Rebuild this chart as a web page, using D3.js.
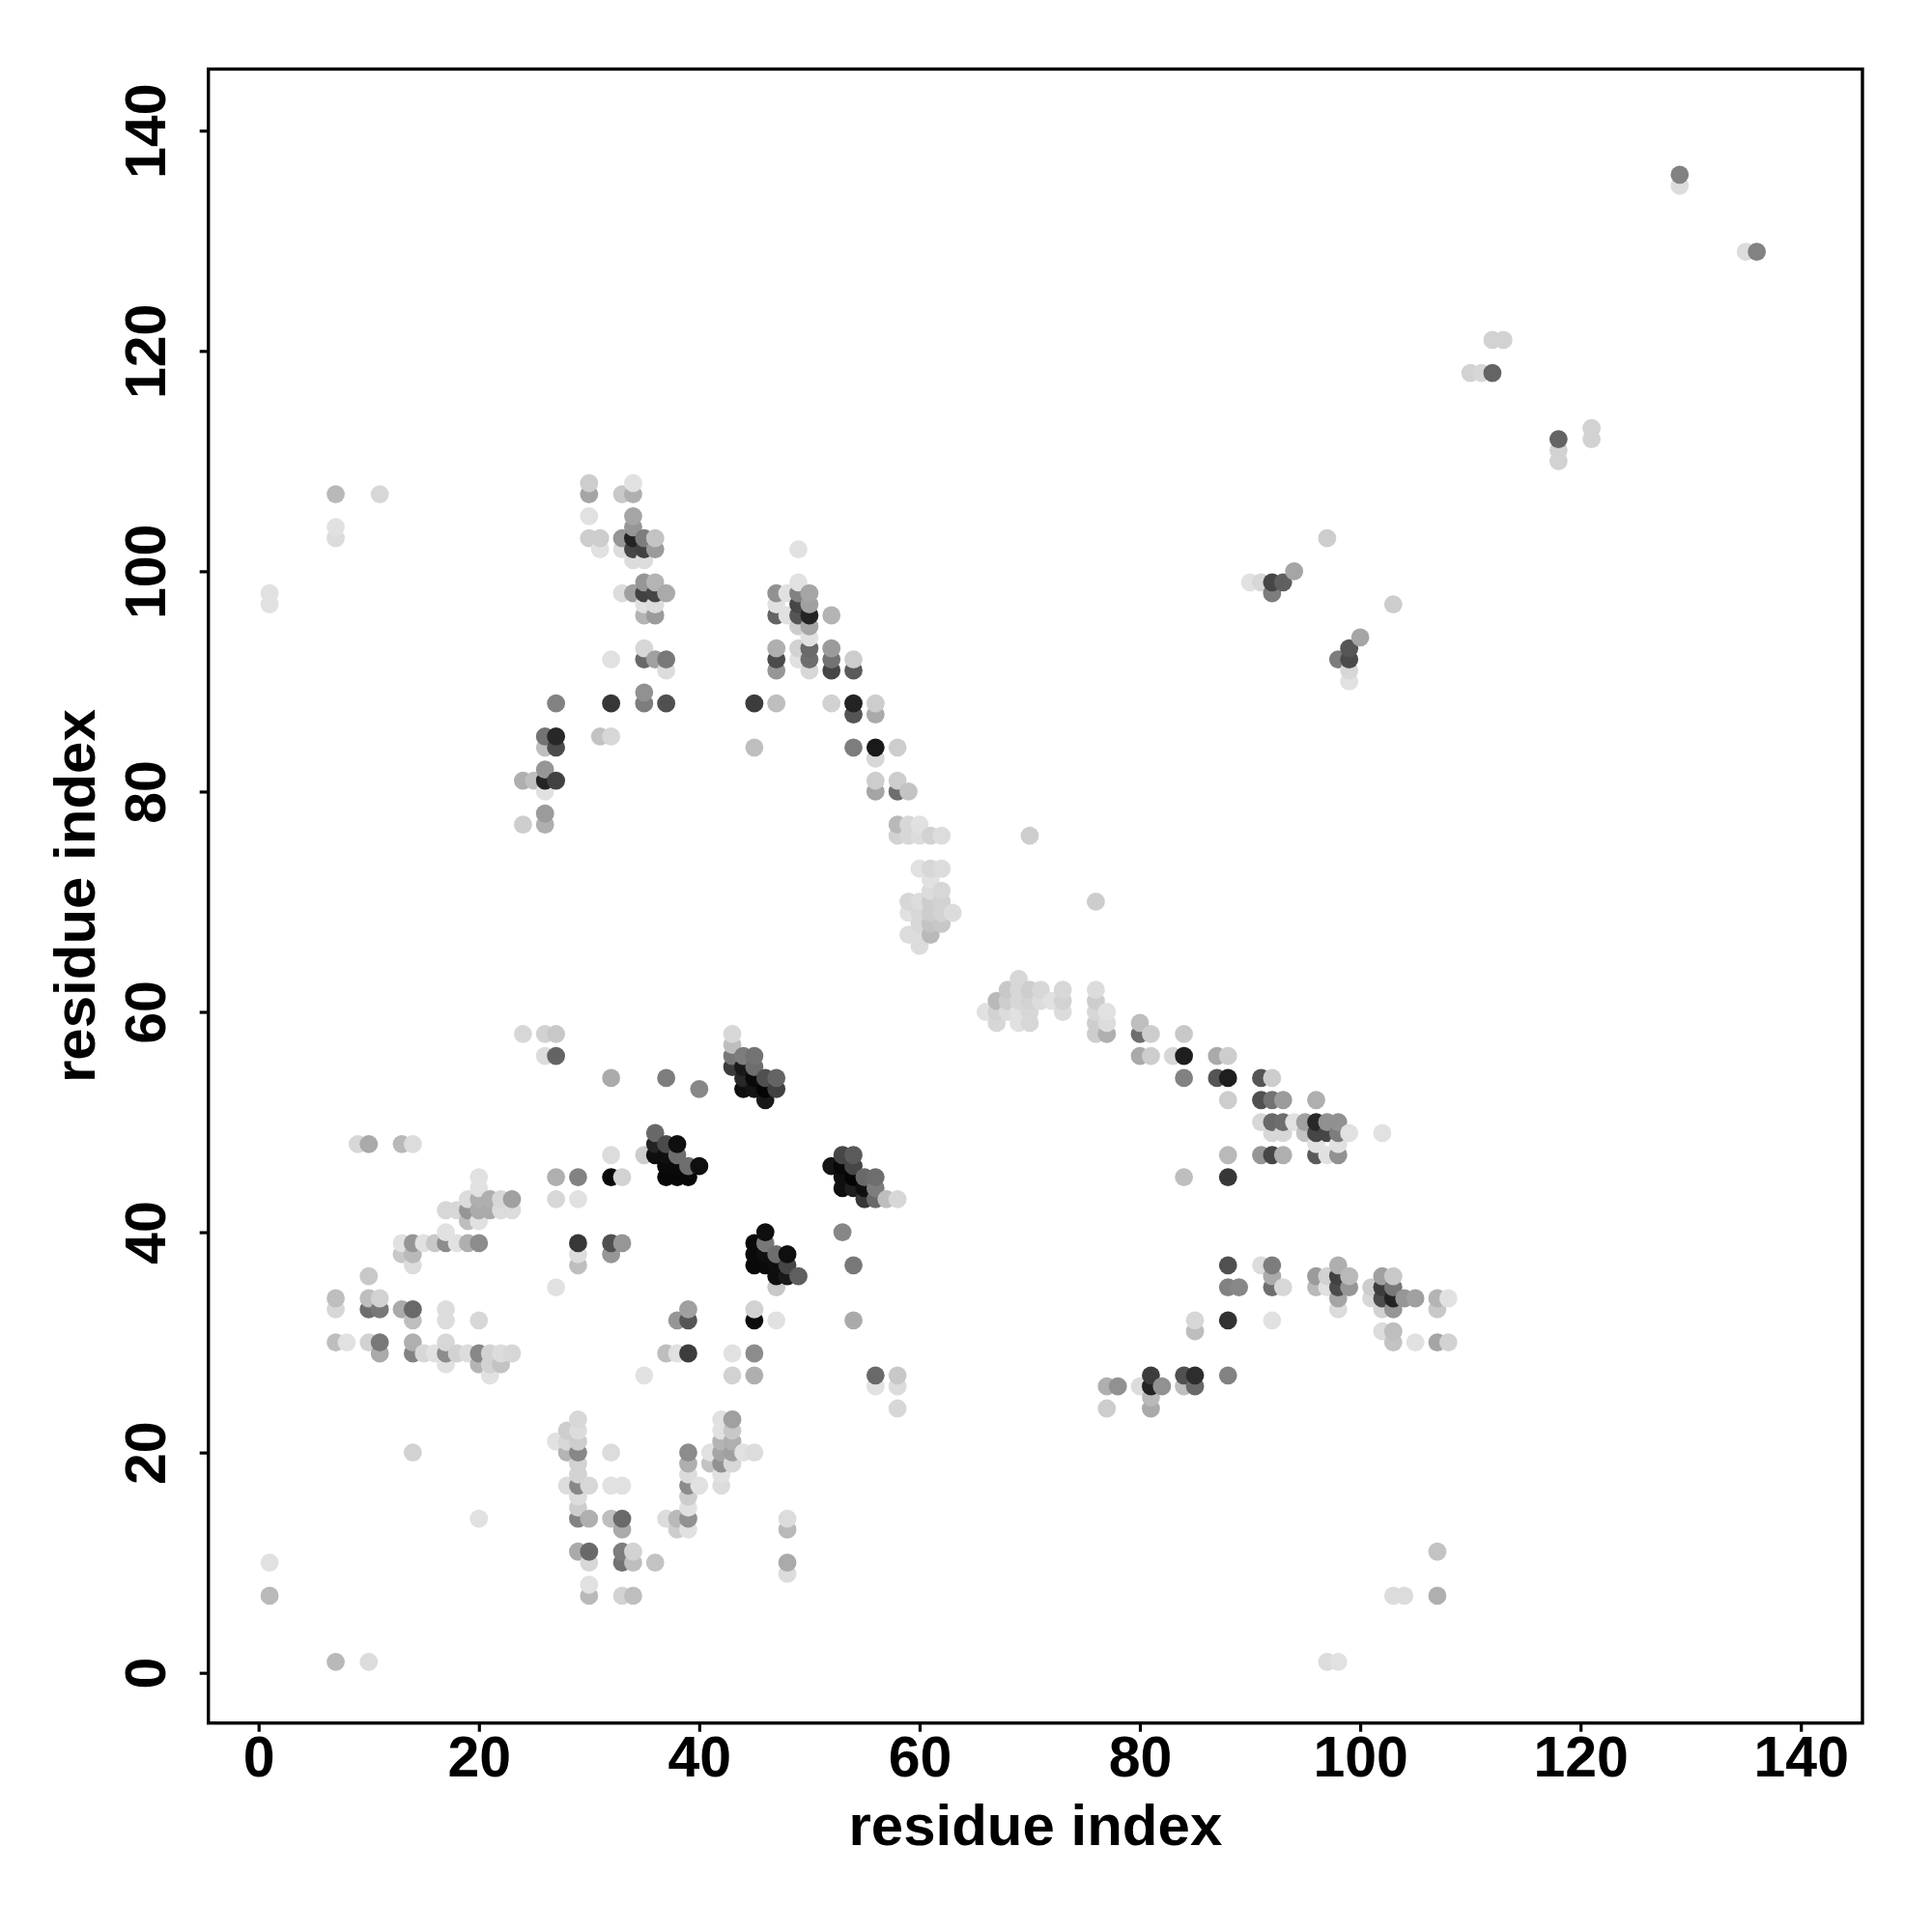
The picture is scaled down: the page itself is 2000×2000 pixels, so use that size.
<!DOCTYPE html>
<html><head><meta charset="utf-8">
<script src="https://cdnjs.cloudflare.com/ajax/libs/d3/7.8.5/d3.min.js"></script>
<style>html,body{margin:0;padding:0;background:#fff}svg{display:block}</style>
</head><body><svg id="c" width="2000" height="2000"></svg>
<script>
// Each contact: [residue x, residue y, grey level 0-255]
const cornerPoints = [[1,98,225],[1,97,225],[1,10,225],[1,7,185],[7,107,185],[7,104,225],[7,103,220],[11,107,215],[7,1,185],[10,1,220],[14,20,210],[20,14,225],[70,76,205],[76,70,205],[97,1,220],[98,1,225],[103,7,220],[104,7,220],[107,7,175],[107,11,195]];
const leftMid = [[24,58,215],[26,58,210],[27,58,200],[26,56,220],[27,56,100],[9,48,215],[10,48,170],[13,48,185],[14,48,220],[20,45,225],[20,44,225],[19,43,220],[20,43,175],[21,43,175],[22,43,215],[23,43,160],[17,42,215],[18,42,215],[19,42,150],[20,42,170],[21,42,170],[22,42,220],[23,42,220],[19,41,190],[20,41,225],[17,40,225],[13,39,225],[14,39,150],[15,39,225],[16,39,200],[17,39,140],[18,39,225],[19,39,175],[20,39,140],[13,38,200],[14,38,185],[14,37,220],[10,36,200],[7,34,190],[7,33,215],[10,34,190],[11,34,210],[10,33,110],[11,33,120],[13,33,170],[14,33,105],[14,32,190],[17,33,220],[17,32,220],[20,32,215],[7,30,190],[8,30,225],[10,30,210],[11,30,120],[11,29,170],[14,30,175],[14,29,130],[15,29,215],[16,29,225],[17,30,215],[17,29,140],[17,28,225],[18,29,210],[19,29,220],[20,29,135],[20,28,180],[21,29,210],[21,28,210],[21,27,225],[22,29,220],[22,28,195],[23,29,215]];
const centreSingles = [[27,45,175],[29,45,130],[27,43,215],[29,43,225],[29,39,55],[29,38,220],[29,37,190],[27,35,225],[32,54,170],[37,54,125],[40,53,135],[32,47,220],[32,45,10],[33,45,210],[32,39,80],[32,38,150],[33,39,150],[53,40,135],[54,37,120],[39,33,160],[38,32,150],[39,32,85],[45,33,210],[45,32,12],[47,32,225],[54,32,170],[37,29,190],[38,29,225],[39,29,60],[43,29,225],[45,29,140],[43,27,210],[45,27,175],[35,27,225],[56,27,105],[58,27,200],[56,26,225],[58,26,220],[58,24,215]];
const blackClusterA = [[43,58,215],[43,57,190],[43,56,120],[43,55,60],[44,56,125],[44,55,25],[44,54,40],[44,53,15],[45,56,115],[45,55,110],[45,54,10],[45,53,20],[46,54,80],[46,53,5],[46,52,25],[47,54,100],[47,53,65]];
const blackClusterB = [[36,49,105],[36,48,35],[36,47,15],[35,47,205],[37,48,75],[37,47,15],[37,46,10],[37,45,8],[38,48,15],[38,47,110],[38,46,10],[38,45,8],[39,46,110],[39,45,8],[40,46,15]];
const blackClusterC = [[52,46,20],[53,47,70],[53,46,8],[53,45,15],[53,44,15],[54,47,90],[54,46,70],[54,45,5],[54,44,30],[55,45,105],[55,44,15],[55,43,55],[56,45,110],[56,44,125],[56,43,105],[57,43,190],[58,43,215]];
const blackClusterD = [[45,39,10],[45,38,10],[45,37,10],[46,40,15],[46,39,120],[46,38,15],[46,37,10],[47,38,110],[47,37,15],[47,36,15],[47,35,200],[48,38,15],[48,37,70],[48,36,25],[49,36,95]];
const bottomLeft = [[29,23,215],[28,22,205],[29,22,220],[27,21,225],[28,21,215],[29,21,205],[28,20,180],[29,20,135],[32,20,220],[29,19,210],[29,18,210],[28,17,220],[29,17,135],[30,17,215],[32,17,225],[33,17,225],[29,16,220],[29,15,205],[29,14,130],[30,14,175],[32,14,190],[33,14,105],[33,13,170],[29,11,170],[30,11,105],[30,10,215],[33,11,125],[34,11,210],[33,10,115],[34,10,190],[36,10,195],[30,8,225],[30,7,185],[33,7,210],[34,7,190]];
const bottomRight = [[37,14,220],[38,14,185],[38,13,205],[39,20,140],[39,19,175],[39,18,220],[39,17,140],[39,16,205],[39,15,225],[39,14,145],[39,13,225],[40,17,225],[41,20,225],[41,19,195],[42,23,225],[42,22,225],[42,21,180],[42,20,165],[42,19,145],[42,18,225],[42,17,220],[43,23,160],[43,22,200],[43,21,175],[43,20,160],[43,19,215],[44,20,225],[45,20,220],[48,14,220],[48,13,185],[48,10,170],[48,9,220]];
const upperLeft = [[30,108,205],[30,107,165],[33,107,200],[34,107,175],[34,108,225],[30,105,225],[34,105,165],[34,104,150],[30,103,205],[31,103,205],[31,102,225],[33,103,150],[34,103,35],[35,103,125],[36,103,195],[33,102,220],[34,102,70],[35,102,65],[36,102,155],[34,101,220],[35,101,220],[35,99,150],[36,99,180],[33,98,220],[34,98,160],[35,98,65],[36,98,70],[37,98,170],[35,97,225],[36,97,220],[35,96,180],[36,96,155],[35,93,215],[32,92,225],[35,92,105],[36,92,160],[37,92,120],[37,91,220],[35,89,145],[35,88,125],[27,88,130],[32,88,55],[37,88,80],[26,85,115],[27,85,40],[26,84,190],[27,84,75],[31,85,195],[32,85,215],[24,81,175],[25,81,190],[26,82,150],[26,81,35],[27,81,65],[26,80,225],[26,78,155],[26,77,175],[24,77,205]];
const upperMid = [[49,102,225],[49,99,225],[47,98,145],[48,98,225],[49,98,130],[50,98,165],[47,97,225],[49,97,70],[50,97,160],[47,96,100],[48,96,225],[49,96,85],[50,96,35],[52,96,180],[49,95,205],[50,95,165],[50,94,225],[47,93,175],[49,93,210],[50,93,105],[52,93,155],[47,92,75],[49,92,225],[50,92,110],[52,92,115],[54,92,205],[47,91,150],[50,91,215],[52,91,70],[54,91,90],[45,88,60],[47,88,190],[52,88,210],[54,88,35],[54,87,85],[56,88,205],[56,87,170],[45,84,190],[54,84,125],[56,84,25],[58,84,205],[56,83,215],[56,81,205],[56,80,165],[58,81,205],[58,80,110],[59,80,195]];
const paleBlob = [[58,77,185],[59,77,215],[60,77,225],[58,76,210],[59,76,215],[60,76,220],[61,76,210],[62,76,220],[60,73,225],[61,73,215],[62,73,220],[61,72,225],[61,71,220],[62,71,215],[59,70,215],[60,70,220],[61,70,205],[62,70,210],[59,69,225],[60,69,215],[61,69,205],[62,69,210],[63,69,220],[60,68,215],[61,68,195],[62,68,200],[59,67,220],[60,67,220],[61,67,185],[60,66,220]];
const diagonalBand = [[69,63,215],[68,62,200],[69,62,215],[70,62,205],[71,62,215],[73,62,215],[76,62,220],[67,61,185],[68,61,205],[69,61,215],[70,61,210],[71,61,220],[72,61,225],[73,61,210],[76,61,205],[66,60,225],[67,60,210],[68,60,220],[69,60,225],[70,60,215],[73,60,220],[76,60,215],[77,60,225],[67,59,215],[69,59,225],[70,59,215],[76,59,205],[77,59,220],[76,58,205],[77,58,175],[80,59,190],[80,58,110],[81,58,205],[84,58,200],[80,56,170],[81,56,205],[83,56,215],[84,56,30],[87,56,170],[88,56,205],[84,54,130],[87,54,85],[88,54,30],[91,54,85],[92,54,205],[88,52,205],[91,52,80],[92,52,115],[93,52,155],[96,52,175],[91,50,215],[92,50,105],[93,50,110],[94,50,225],[95,50,160],[96,50,40],[97,50,145],[98,50,145],[92,49,215],[93,49,215],[95,49,195],[96,49,70],[97,49,70],[98,49,125],[99,49,225],[102,49,225],[96,48,225],[98,48,225],[88,47,185],[91,47,150],[92,47,70],[93,47,175],[96,47,90],[97,47,225],[98,47,145],[84,45,190],[88,45,55]];
const lowerRight = [[88,37,80],[91,37,220],[92,37,125],[92,36,170],[92,35,110],[93,35,215],[88,35,130],[89,35,135],[96,36,155],[97,36,210],[98,37,175],[98,36,65],[99,36,185],[96,35,185],[97,35,225],[98,35,75],[99,35,150],[98,34,165],[98,33,220],[101,35,205],[101,34,215],[102,36,160],[103,36,200],[102,35,60],[103,35,120],[102,34,75],[103,34,35],[104,34,150],[105,34,160],[102,33,210],[103,33,150],[107,34,180],[108,34,225],[107,33,200],[88,32,50],[92,32,225],[85,32,215],[85,31,190],[102,31,220],[103,31,190],[103,30,195],[105,30,225],[107,30,165],[108,30,210],[81,27,60],[84,27,80],[85,27,45],[88,27,130],[77,26,175],[78,26,145],[80,26,220],[81,26,35],[82,26,145],[84,26,190],[85,26,105],[81,25,185],[81,24,170],[77,24,205]];
const upperRight = [[97,103,205],[94,100,165],[90,99,225],[91,99,215],[92,99,70],[93,99,95],[92,98,125],[103,97,205],[100,94,165],[99,93,85],[98,92,125],[99,92,75],[99,91,215],[99,90,225],[129,136,130],[129,135,220],[135,129,220],[136,129,130],[112,121,210],[113,121,210],[110,118,210],[111,118,215],[112,118,100],[118,112,100],[118,111,210],[118,110,210],[121,113,210],[121,112,210]];
const xTicks = [0,20,40,60,80,100,120,140];
const yTicks = [0,20,40,60,80,100,120,140];
const xTitle = "residue index";
const yTitle = "residue index";

const contacts = [].concat(cornerPoints,leftMid,centreSingles,blackClusterA,blackClusterB,blackClusterC,blackClusterD,bottomLeft,bottomRight,upperLeft,upperMid,paleBlob,diagonalBand,lowerRight,upperRight)
  .sort((a,b)=>d3.ascending(a[0],b[0])||d3.ascending(a[1],b[1]));

const L=215.7,R=1928,T=71.5,B=1783.7;
const font='"Liberation Sans",Arial,Helvetica,sans-serif';
const x=d3.scaleLinear().domain([-4.56,145.59]).range([L,R]);
const y=d3.scaleLinear().domain([-4.56,145.59]).range([B,T]);
const svg=d3.select("#c");
svg.append("rect").attr("width",2000).attr("height",2000).attr("fill","#fff");

svg.append("g").selectAll("circle").data(contacts).join("circle")
  .attr("cx",d=>x(d[0])).attr("cy",d=>y(d[1])).attr("r",9.4)
  .attr("fill",d=>d3.rgb(d[2],d[2],d[2]).formatHex());

const xa=svg.append("g").attr("transform",`translate(0,${B})`)
  .call(d3.axisBottom(x).tickValues(xTicks).tickSize(9).tickPadding(9).tickSizeOuter(0));
const ya=svg.append("g").attr("transform",`translate(${L},0)`)
  .call(d3.axisLeft(y).tickValues(yTicks).tickSize(9).tickSizeOuter(0));
[xa,ya].forEach(a=>{a.select(".domain").remove();
  a.selectAll("line").attr("stroke","#000").attr("stroke-width",3.2);
  a.selectAll("text").attr("font-family",font).attr("font-size",59).attr("font-weight","bold").attr("fill","#000");});
xa.selectAll("text").attr("dy",null).attr("y",null).attr("dominant-baseline",null)
  .attr("transform","translate(0,55)");
ya.selectAll("text").attr("x",null).attr("dy",null).attr("text-anchor","middle")
  .attr("transform","translate(-45,0) rotate(-90)");

svg.append("rect").attr("x",L).attr("y",T).attr("width",R-L).attr("height",B-T)
  .attr("fill","none").attr("stroke","#000").attr("stroke-width",3.4);

svg.append("text").attr("x",(L+R)/2).attr("y",1910).attr("text-anchor","middle")
  .attr("font-family",font).attr("font-size",60).attr("font-weight","bold").text(xTitle);
svg.append("text").attr("transform",`translate(98,${(T+B)/2}) rotate(-90)`).attr("text-anchor","middle")
  .attr("font-family",font).attr("font-size",60).attr("font-weight","bold").text(yTitle);
</script></body></html>
